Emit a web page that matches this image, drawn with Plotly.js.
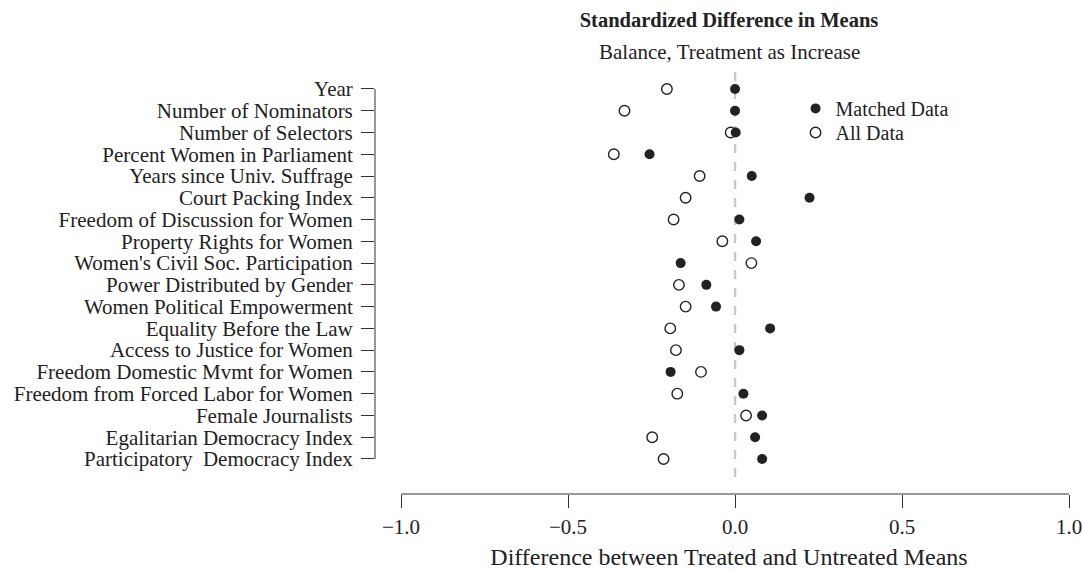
<!DOCTYPE html>
<html>
<head>
<meta charset="utf-8">
<script src="https://cdn.plot.ly/plotly-3.0.1.min.js"></script>
<style>html,body{margin:0;padding:0;background:#fff;}#chart{width:1083px;height:570px;}</style>
</head>
<body>
<div id="chart"></div>
<script>
const categories = [
  "Year",
  "Number of Nominators",
  "Number of Selectors",
  "Percent Women in Parliament",
  "Years since Univ. Suffrage",
  "Court Packing Index",
  "Freedom of Discussion for Women",
  "Property Rights for Women",
  "Women's Civil Soc. Participation",
  "Power Distributed by Gender",
  "Women Political Empowerment",
  "Equality Before the Law",
  "Access to Justice for Women",
  "Freedom Domestic Mvmt for Women",
  "Freedom from Forced Labor for Women",
  "Female Journalists",
  "Egalitarian Democracy Index",
  "Participatory  Democracy Index"
];
const matchedData = [0.000, 0.000, 0.002, -0.256, 0.050, 0.223, 0.013, 0.063, -0.163, -0.086, -0.057, 0.105, 0.013, -0.193, 0.025, 0.081, 0.060, 0.081];
const allData = [-0.204, -0.331, -0.013, -0.363, -0.106, -0.148, -0.184, -0.038, 0.049, -0.168, -0.148, -0.194, -0.177, -0.102, -0.173, 0.033, -0.248, -0.214];
const xTicks = [-1.0, -0.5, 0.0, 0.5, 1.0];

const FONT = "Liberation Serif, Times New Roman, serif";
const INK = "#222222";

const traces = [
  {
    type: "scatter", mode: "markers", name: "Matched Data", legend: "legend",
    x: matchedData, y: categories,
    marker: {symbol: "circle", size: 10, color: INK, line: {width: 0}},
    cliponaxis: false
  },
  {
    type: "scatter", mode: "markers", name: "All Data", legend: "legend2",
    x: allData, y: categories,
    marker: {symbol: "circle-open", size: 10.5, color: INK, line: {width: 1.4, color: INK}},
    cliponaxis: false
  }
];

const legendStyle = {
  xanchor: "left", yanchor: "top",
  font: {family: FONT, size: 20, color: INK},
  bgcolor: "rgba(0,0,0,0)", itemwidth: 30
};

const layout = {
  width: 1083, height: 570,
  margin: {l: 375, r: 0, t: 72, b: 76},
  paper_bgcolor: "#fff", plot_bgcolor: "#fff",
  font: {family: FONT, color: INK, size: 21},
  showlegend: true,
  legend: Object.assign({x: 0.594, y: 0.960}, legendStyle),
  legend2: Object.assign({x: 0.594, y: 0.903}, legendStyle),
  title: {
    text: "<b>Standardized Difference in Means</b>",
    font: {family: FONT, size: 20.5, color: INK},
    x: 0.5, xref: "paper", xanchor: "center",
    y: 1 - 20/570, yref: "container", yanchor: "middle"
  },
  annotations: [{
    text: "Balance, Treatment as Increase",
    xref: "paper", yref: "paper", x: 0.5, y: 1 + (72-52)/422,
    xanchor: "center", yanchor: "middle", showarrow: false,
    font: {family: FONT, size: 21, color: INK}
  }],
  xaxis: {
    range: [-1.078, -1.078 + 708/334],
    tickmode: "array", tickvals: xTicks, tickformat: ".1f",
    ticks: "outside", ticklen: 13, tickwidth: 1, tickcolor: "#333",
    showline: false, showgrid: false, zeroline: false,
    tickfont: {family: FONT, size: 21, color: INK},
    ticklabelstandoff: 1,
    title: {text: "Difference between Treated and Untreated Means", font: {family: FONT, size: 24, color: INK}, standoff: 10}
  },
  yaxis: {
    type: "category", categoryarray: categories, categoryorder: "array",
    tickmode: "array", tickvals: categories, ticktext: categories,
    range: [18.61, -0.78],
    ticks: "outside", ticklen: 13, tickwidth: 1, tickcolor: "#333",
    showline: false, showgrid: false, zeroline: false,
    tickfont: {family: FONT, size: 21, color: INK},
    ticklabelstandoff: 4
  },
  shapes: [
    {type: "line", xref: "x", yref: "y", x0: 0, x1: 0, y0: -0.78, y1: 18.06,
     line: {color: "#c8c8c8", width: 2.4, dash: "dash"}, layer: "below"},
    {type: "line", xref: "paper", yref: "y", x0: 0, x1: 0, y0: 0, y1: 17,
     line: {color: "#333", width: 1}},
    {type: "line", xref: "x", yref: "paper", x0: -1, x1: 1, y0: 0, y1: 0,
     line: {color: "#333", width: 1}}
  ]
};

Plotly.newPlot("chart", traces, layout, {displayModeBar: false, staticPlot: true});
</script>
</body>
</html>
